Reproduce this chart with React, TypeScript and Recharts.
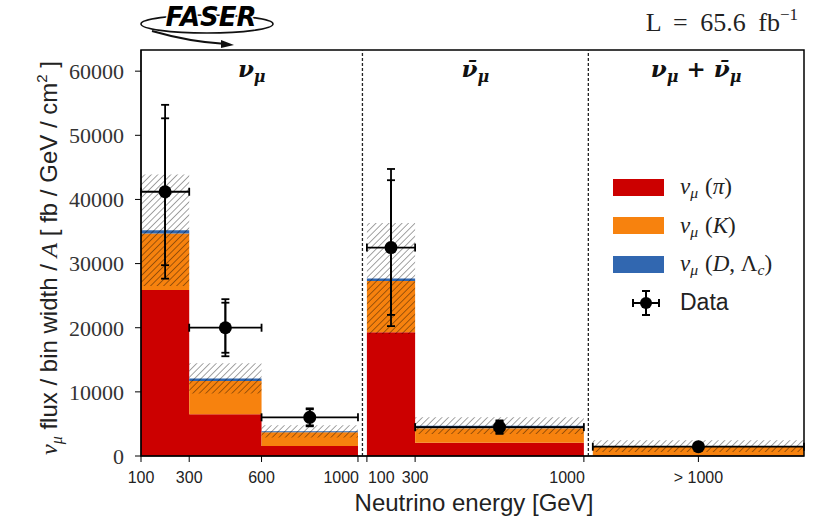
import React from 'react';
import { ComposedChart, Area, Scatter, ErrorBar, XAxis, YAxis, ReferenceLine, ReferenceArea, Legend } from 'recharts';

// bin edges per panel [GeV]; the third panel is the open "> 1000" bin
const numuEdges = [100, 300, 600, 1000];
const numubarEdges = [100, 300, 1000];

// flux prediction per bin [fb / GeV / cm2], split by parent hadron
const numuPi = [25900, 6500, 1560];
const numuK = [8800, 5200, 2140];
const numuD = [500, 400, 150];
const numuErr = [8700, 2350, 950];

const numubarPi = [19300, 2070];
const numubarK = [8000, 2240];
const numubarD = [380, 420];
const numubarErr = [8660, 1300];

const sumPi = [80];
const sumK = [1400];
const sumD = [60];
const sumErr = [900];

// measured flux: value, stat error, total error
const numuData = [41200, 20000, 6030];
const numuStat = [11450, 3900, 1250];
const numuTot = [13550, 4450, 1400];
const numubarData = [32500, 4500];
const numubarStat = [10500, 850];
const numubarTot = [12250, 1050];
const sumData = [1450];
const sumStat = [250];
const sumTot = [300];

const yTicks = [0, 10000, 20000, 30000, 40000, 50000, 60000];
const Y_MAX = 63300;

const panelTitles = ['ν_μ', 'ν̄_μ', 'ν_μ + ν̄_μ'];

const RED = '#cc0000';
const ORANGE = '#f7820e';
const BLUE = '#3167b0';

// panels are laid side by side on one drawing axis
const GAP = 37;
const X_MAX = 2850;
const last = (a: number[]) => a[a.length - 1];
const shift2 = last(numuEdges) + GAP - numubarEdges[0];
const p3Start = last(numubarEdges) + shift2 + GAP;
const sep1 = last(numuEdges) + GAP / 2;
const sep2 = last(numubarEdges) + shift2 + GAP / 2;
const p3Edges = [p3Start, X_MAX];

type Row = { x: number; pi: number | null; k: number | null; d: number | null; err: number | null };

function panelRows(edges: number[], shift: number, pi: number[], k: number[], d: number[], err: number[]): Row[] {
  return edges.map((e, i) => {
    const j = Math.min(i, pi.length - 1);
    return { x: e + shift, pi: pi[j], k: k[j], d: d[j], err: err[j] };
  });
}
const gapRow = (x: number): Row => ({ x, pi: null, k: null, d: null, err: null });

const rows: Row[] = [
  ...panelRows(numuEdges, 0, numuPi, numuK, numuD, numuErr),
  gapRow(sep1),
  ...panelRows(numubarEdges, shift2, numubarPi, numubarK, numubarD, numubarErr),
  gapRow(sep2),
  ...panelRows(p3Edges, 0, sumPi, sumK, sumD, sumErr),
];

function panelPoints(edges: number[], shift: number, vals: number[], stat: number[], tot: number[]) {
  return vals.map((v, i) => ({
    x: (edges[i] + edges[i + 1]) / 2 + shift,
    xe: (edges[i + 1] - edges[i]) / 2,
    y: v,
    ys: stat[i],
    yt: tot[i],
  }));
}

const points = [
  ...panelPoints(numuEdges, 0, numuData, numuStat, numuTot),
  ...panelPoints(numubarEdges, shift2, numubarData, numubarStat, numubarTot),
  ...panelPoints(p3Edges, 0, sumData, sumStat, sumTot),
];

const piRange = (r: Row) => (r.pi == null ? null : [0, r.pi]);
const kRange = (r: Row) => (r.pi == null ? null : [r.pi, r.pi + (r.k as number)]);
const dRange = (r: Row) => (r.pi == null ? null : [r.pi + (r.k as number), r.pi + (r.k as number) + (r.d as number)]);
const uncRange = (r: Row) => {
  if (r.pi == null) return null;
  const t = r.pi + (r.k as number) + (r.d as number);
  return [t - (r.err as number), t + (r.err as number)];
};

const xTickVals = [...numuEdges, ...numubarEdges.map((e) => e + shift2), (p3Start + X_MAX) / 2];
const xTickLabels = ['100', '300', '600', '1000', '100', '300', '1000', '> 1000'];
const xTickAnchor = ['middle', 'middle', 'middle', 'end', 'start', 'middle', 'end', 'middle'];

const MATH = 'Liberation Serif, serif';
const SANS = 'Liberation Sans, Arial, sans-serif';

function mathSpans(s: string, size: number, subSize: number) {
  const out: React.ReactNode[] = [];
  let down = false;
  for (let i = 0; i < s.length; i++) {
    if (s[i] === '_') {
      out.push(<tspan key={i} fontSize={subSize} dy={size * 0.22}>{s[i + 1]}</tspan>);
      down = true;
      i++;
      continue;
    }
    let ch = s[i];
    if (s[i + 1] === '\u0304') { ch += '\u0304'; i++; }
    out.push(<tspan key={i} dy={down ? -size * 0.22 : 0}>{ch}</tspan>);
    down = false;
  }
  return out;
}

function XTick(props: any) {
  const { x, y, payload } = props;
  const i = xTickVals.findIndex((v) => Math.abs(v - payload.value) < 0.01);
  const dx = xTickAnchor[i] === 'middle' ? 0 : 1;
  return (
    <text x={x + dx} y={y + 19} textAnchor={xTickAnchor[i]} fontFamily={SANS} fontSize={16} fill="#222">
      {xTickLabels[i]}
    </text>
  );
}

function panelTitle(idx: number) {
  return (p: any) => {
    const vb = p.viewBox;
    return (
      <text x={vb.x + vb.width / 2} y={vb.y + 27} textAnchor="middle" fontFamily="DejaVu Serif, serif"
        fontWeight="bold" fontStyle="italic" fontSize={23} fill="#111">
        {mathSpans(panelTitles[idx], 23, 16)}
      </text>
    );
  };
}

const legendItems = [
  { color: RED, main: 'π' },
  { color: ORANGE, main: 'K' },
  { color: BLUE, main: 'D' },
];

function Nu() {
  return (
    <span style={{ fontFamily: MATH, fontStyle: 'italic' }}>
      ν<span style={{ fontSize: '0.68em', verticalAlign: '-0.28em', lineHeight: 0 }}>μ</span>
    </span>
  );
}

function LegendBox() {
  const rowStyle: React.CSSProperties = { height: 38.5, display: 'flex', alignItems: 'center', fontSize: 23, color: '#222' };
  return (
    <div>
      {legendItems.map((it) => (
        <div key={it.main} style={rowStyle}>
          <div style={{ width: 51, height: 17, background: it.color, marginLeft: 8, marginRight: 16 }} />
          <Nu />
          <span style={{ fontFamily: MATH, marginLeft: 7 }}>
            (
            {it.main === 'D' ? (
              <>
                <i>D</i>, Λ<i style={{ fontSize: '0.68em', verticalAlign: '-0.28em', lineHeight: 0 }}>c</i>
              </>
            ) : (
              <i>{it.main}</i>
            )}
            )
          </span>
        </div>
      ))}
      <div style={rowStyle}>
        <svg width={60} height={30} style={{ marginLeft: 8, marginRight: 7 }}>
          <line x1={20} y1={15} x2={46} y2={15} stroke="#000" strokeWidth={2} />
          <line x1={20} y1={11} x2={20} y2={19} stroke="#000" strokeWidth={2} />
          <line x1={46} y1={11} x2={46} y2={19} stroke="#000" strokeWidth={2} />
          <line x1={33} y1={3} x2={33} y2={27} stroke="#000" strokeWidth={2} />
          <line x1={29} y1={3} x2={37} y2={3} stroke="#000" strokeWidth={2} />
          <line x1={29} y1={27} x2={37} y2={27} stroke="#000" strokeWidth={2} />
          <circle cx={33} cy={15} r={6} fill="#000" />
        </svg>
        <span style={{ fontFamily: SANS }}>Data</span>
      </div>
    </div>
  );
}

function DataDot(p: any) {
  return <circle cx={p.cx} cy={p.cy} r={6.5} fill="#000" />;
}

export default function App() {
  return (
    <div style={{ position: 'absolute', left: 0, top: 0, width: 815, height: 519, background: '#fff' }}>
      <ComposedChart width={815} height={519} data={rows} margin={{ top: 50, right: 11, bottom: 0, left: 0 }}>
        <defs>
          <pattern id="hatch" width={4.6} height={4.6} patternUnits="userSpaceOnUse" patternTransform="rotate(45)">
            <line x1={0} y1={0} x2={0} y2={4.6} stroke="#000" strokeOpacity={0.45} strokeWidth={1.6} />
          </pattern>
        </defs>
        <XAxis type="number" dataKey="x" domain={[100, X_MAX]} allowDataOverflow ticks={xTickVals} interval={0}
          tick={<XTick />} tickSize={6} height={63} stroke="#000" />
        <YAxis type="number" domain={[0, Y_MAX]} allowDataOverflow ticks={yTicks} interval={0} width={141}
          tickSize={6} tickMargin={11} stroke="#000"
          tick={{ fontFamily: MATH, fontSize: 22, fill: '#333' }} />
        <Area dataKey={piRange} type="stepAfter" fill={RED} fillOpacity={1} stroke="none" isAnimationActive={false} />
        <Area dataKey={kRange} type="stepAfter" fill={ORANGE} fillOpacity={1} stroke="none" isAnimationActive={false} />
        <Area dataKey={dRange} type="stepAfter" fill={BLUE} fillOpacity={1} stroke="none" isAnimationActive={false} />
        <Area dataKey={uncRange} type="stepAfter" fill="url(#hatch)" fillOpacity={1} stroke="none" isAnimationActive={false} />
        <ReferenceLine x={sep1} stroke="#222" strokeDasharray="3 2" strokeWidth={1.3} />
        <ReferenceLine x={sep2} stroke="#222" strokeDasharray="3 2" strokeWidth={1.3} />
        <ReferenceArea x1={100} x2={sep1} fill="none" stroke="none" label={panelTitle(0)} />
        <ReferenceArea x1={sep1} x2={sep2} fill="none" stroke="none" label={panelTitle(1)} />
        <ReferenceArea x1={sep2} x2={X_MAX} fill="none" stroke="none" label={panelTitle(2)} />
        <Scatter data={points} dataKey="y" shape={<DataDot />} isAnimationActive={false}>
          <ErrorBar dataKey="xe" direction="x" width={4} stroke="#000" strokeWidth={1.8} isAnimationActive={false} />
          <ErrorBar dataKey="yt" direction="y" width={4} stroke="#000" strokeWidth={1.8} isAnimationActive={false} />
          <ErrorBar dataKey="ys" direction="y" width={4} stroke="#000" strokeWidth={1.8} isAnimationActive={false} />
        </Scatter>
        <ReferenceArea x1={100} x2={X_MAX} y1={0} y2={Y_MAX} fill="none" stroke="#000" strokeWidth={1.5} />
        <Legend layout="vertical" align="center" verticalAlign="middle" content={<LegendBox />}
          wrapperStyle={{ left: 605, top: 168, width: 205, height: 155 }} />
      </ComposedChart>

      <svg width={815} height={519} style={{ position: 'absolute', left: 0, top: 0, pointerEvents: 'none' }}>
        {/* FASER logo */}
        <ellipse cx={207} cy={24} rx={66} ry={9} fill="none" stroke="#111" strokeWidth={1.6} />
        <path d="M 152 31 Q 190 42 226 44" stroke="#111" strokeWidth={2} fill="none" />
        <path d="M 221 40 L 234 45 L 221 48 Z" fill="#111" />
        <text x={211} y={26} textAnchor="middle" fontFamily="DejaVu Sans, sans-serif" fontWeight="bold"
          fontStyle="italic" fontSize={26} fill="#000" stroke="#fff" strokeWidth={3} paintOrder="stroke">
          FASER
        </text>

        <text x={798} y={31} textAnchor="end" fontFamily={MATH} fontSize={26} fill="#222" wordSpacing={6}>
          L = 65.6 fb<tspan fontSize={17} dy={-11}>−1</tspan>
        </text>

        <text transform="rotate(-90)" x={-258} y={57} textAnchor="middle" fontFamily={SANS} fontSize={24} fill="#222">
          <tspan fontFamily={MATH} fontStyle="italic">ν</tspan>
          <tspan fontFamily={MATH} fontStyle="italic" fontSize={16} dy={5}>μ</tspan>
          <tspan dy={-5}> flux / bin width / </tspan>
          <tspan fontFamily={MATH} fontStyle="italic">A</tspan>
          <tspan> [ fb / GeV / cm</tspan>
          <tspan fontSize={15} dy={-10}>2</tspan>
          <tspan dy={10}> ]</tspan>
        </text>

        <text x={474} y={511} textAnchor="middle" fontFamily={SANS} fontSize={24} fill="#222">
          Neutrino energy [GeV]
        </text>
      </svg>
    </div>
  );
}
